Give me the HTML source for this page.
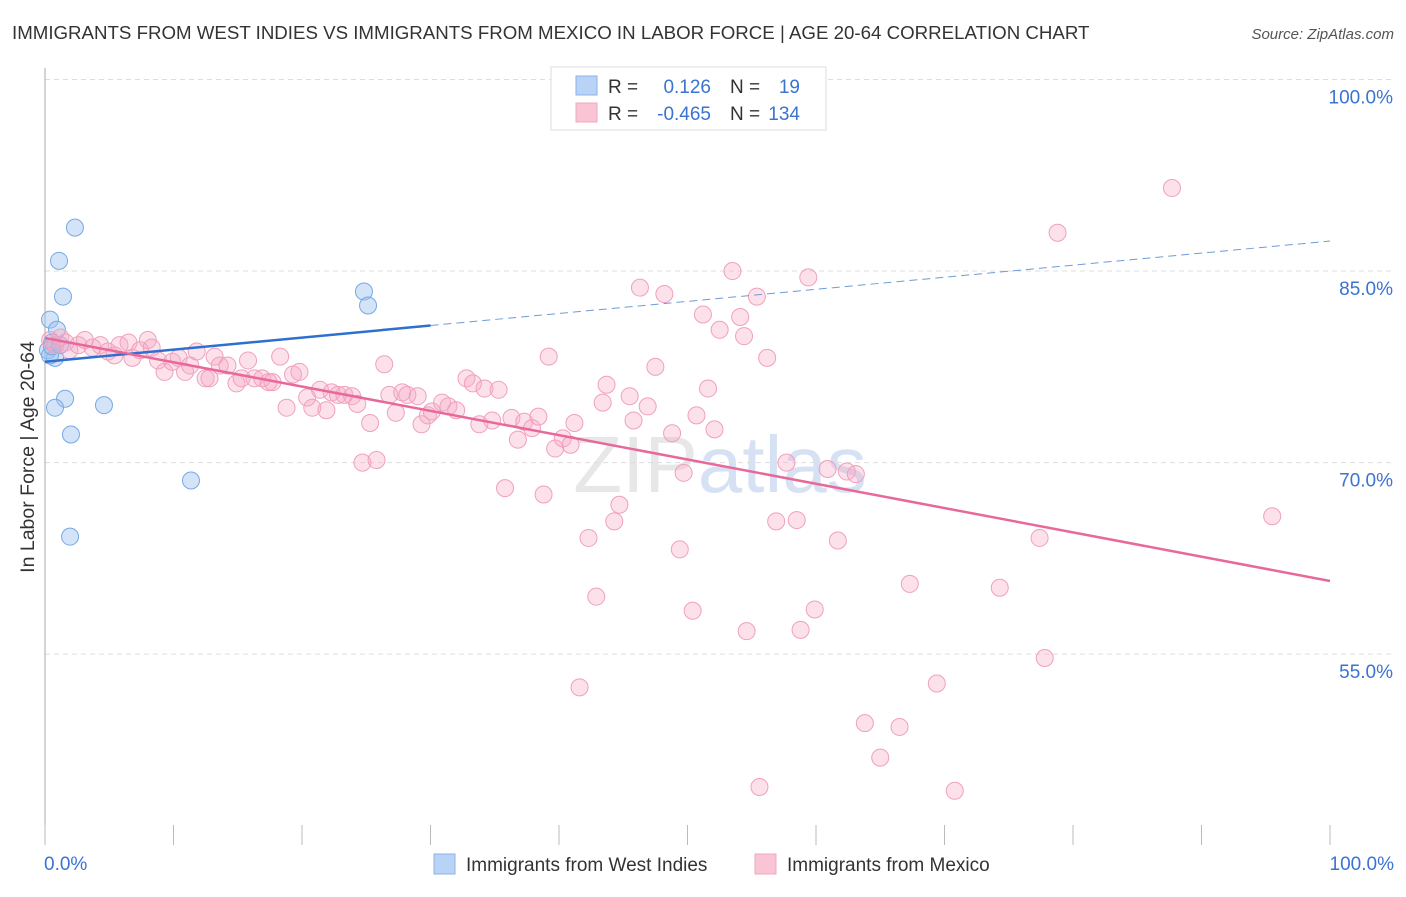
<!DOCTYPE html>
<html><head><meta charset="utf-8"><style>
body{margin:0;background:#fff;font-family:"Liberation Sans",sans-serif}
svg text{font-family:"Liberation Sans",sans-serif}
</style></head><body>
<svg id="chart" width="1406" height="892" xmlns="http://www.w3.org/2000/svg">
<text x="12" y="39" font-size="18.7" fill="#333">IMMIGRANTS FROM WEST INDIES VS IMMIGRANTS FROM MEXICO IN LABOR FORCE | AGE 20-64 CORRELATION CHART</text>
<text x="1394" y="39" font-size="15" fill="#555" text-anchor="end" font-style="italic">Source: ZipAtlas.com</text>
<text transform="translate(34,457) rotate(-90)" font-size="19.5" fill="#333" text-anchor="middle">In Labor Force | Age 20-64</text>
<text x="720" y="492" font-size="80" fill="#d8d8d8" text-anchor="middle" opacity="0.6" font-family="Liberation Serif">ZIP<tspan fill="#bcd0ee">atlas</tspan></text>
<g id="grid"></g><g id="blue"></g><g id="pink"></g><g id="lines"></g>
<g>
<rect x="551" y="67" width="275" height="63" fill="#fff" stroke="#ddd"/>
<rect x="576" y="76" width="21" height="19" fill="#b8d3f5" stroke="#8ab3e6"/>
<rect x="576" y="103" width="21" height="19" fill="#f9c5d5" stroke="#f0a8c0"/>
<text x="608" y="93" font-size="19" fill="#333">R =</text><text x="711" y="93" font-size="19" fill="#3b73d1" text-anchor="end">0.126</text>
<text x="730" y="93" font-size="19" fill="#333">N =</text><text x="800" y="93" font-size="19" fill="#3b73d1" text-anchor="end">19</text>
<text x="608" y="120" font-size="19" fill="#333">R =</text><text x="711" y="120" font-size="19" fill="#3b73d1" text-anchor="end">-0.465</text>
<text x="730" y="120" font-size="19" fill="#333">N =</text><text x="800" y="120" font-size="19" fill="#3b73d1" text-anchor="end">134</text>
</g>
<g>
<rect x="434" y="854" width="21" height="20" fill="#b8d3f5" stroke="#8ab3e6"/>
<text x="466" y="871" font-size="19" fill="#333">Immigrants from West Indies</text>
<rect x="755" y="854" width="21" height="20" fill="#f9c5d5" stroke="#f0a8c0"/>
<text x="787" y="871" font-size="19" fill="#333">Immigrants from Mexico</text>
</g>
</svg>
<script>
const yTicks=[100,85,70,55];
const yTickLabels=["100.0%","85.0%","70.0%","55.0%"];
const xTickLabels=["0.0%","100.0%"];
const blueX=[2.33,1.09,1.40,0.39,0.93,0.54,0.23,0.78,0.39,1.56,0.78,4.59,2.02,11.36,1.95,24.82,25.14,0.54,1.17];
const blueY=[88.4,85.8,83.0,81.2,80.4,79.4,78.8,78.2,78.4,75.0,74.3,74.5,72.2,68.6,64.2,83.4,82.3,79.1,79.2];
const pinkX=[0.4,0.8,1.2,1.6,1.9,2.6,3.1,3.7,4.3,4.9,5.4,5.8,6.5,6.8,7.4,8.0,8.3,8.8,9.3,9.9,10.4,10.9,11.3,11.8,12.5,12.8,13.2,13.6,14.2,14.9,15.3,15.8,16.3,16.9,17.4,17.7,18.3,18.8,19.3,19.8,20.4,20.8,21.4,21.9,22.3,22.8,23.3,23.9,24.3,24.7,25.3,25.8,26.4,26.8,27.3,27.8,28.2,29.0,29.3,29.8,30.1,30.9,31.4,32.0,32.8,33.3,33.8,34.2,34.8,35.3,35.8,36.3,36.8,37.3,37.9,38.4,38.8,39.2,39.7,40.3,40.9,41.2,41.6,42.3,42.9,43.4,43.7,44.3,44.7,45.5,45.8,46.3,46.9,47.5,48.2,48.8,49.4,49.7,50.4,50.7,51.2,51.6,52.1,52.5,53.5,54.1,54.4,54.6,55.4,55.6,56.2,56.9,57.7,58.5,58.8,59.4,59.9,60.9,61.7,62.4,63.1,63.8,65.0,66.5,67.3,69.4,70.8,74.3,77.4,77.8,78.8,87.7,95.5,47.6];
const pinkY=[79.6,79.2,79.8,79.4,78.8,79.2,79.6,79.0,79.2,78.7,78.4,79.2,79.4,78.2,78.8,79.6,79.0,78.0,77.1,77.9,78.2,77.1,77.6,78.7,76.6,76.6,78.3,77.6,77.6,76.2,76.6,78.0,76.6,76.6,76.3,76.3,78.3,74.3,76.9,77.1,75.1,74.3,75.7,74.1,75.5,75.3,75.3,75.2,74.6,70.0,73.1,70.2,77.7,75.3,73.9,75.5,75.3,75.2,73.0,73.7,74.0,74.7,74.4,74.1,76.6,76.2,73.0,75.8,73.3,75.7,68.0,73.5,71.8,73.2,72.7,73.6,67.5,78.3,71.1,71.9,71.4,73.1,52.4,64.1,59.5,74.7,76.1,65.4,66.7,75.2,73.3,83.7,74.4,77.5,83.2,72.3,63.2,69.2,58.4,73.7,81.6,75.8,72.6,80.4,85.0,81.4,79.9,56.8,83.0,44.6,78.2,65.4,70.0,65.5,56.9,84.5,58.5,69.5,63.9,69.3,69.1,49.6,46.9,49.3,60.5,52.7,44.3,60.2,64.1,54.7,88.0,91.5,65.8,100.1];
const blueTrend=[77.9,87.35];
const pinkTrend=[79.76,60.73];
const NS="http://www.w3.org/2000/svg";
const X=v=>45+v*12.85, Y=v=>79.5+(100-v)*12.77;
function mk(p,t,a){const e=document.createElementNS(NS,t);for(const k in a)e.setAttribute(k,a[k]);p.appendChild(e);return e;}
const grid=document.getElementById('grid');
yTicks.forEach((t,i)=>{
 const l=mk(grid,'line',{x1:45,x2:1394,y1:Y(t),y2:Y(t),stroke:'#ddd','stroke-dasharray':'5,4'});
 
 
 const tx=mk(grid,'text',{x:1393,y:Y(t)+24,'font-size':19,fill:'#3b73d1','text-anchor':'end'});
 tx.textContent=yTickLabels[i];
 
 
});
const ax=mk(grid,'line',{x1:45,x2:45,y1:68,y2:845,stroke:'#aaa'});


for(let i=0;i<=10;i++){
 const t=mk(grid,'line',{x1:X(i*10),x2:X(i*10),y1:825,y2:845,stroke:'#bbb'});
 
 
}
[[0,'start',44],[100,'end',1394]].forEach((d,i)=>{
 const tx=mk(grid,'text',{x:d[2],y:870,'font-size':19,fill:'#3b73d1','text-anchor':d[1]});
 tx.textContent=xTickLabels[i];
 
 
});
const bg=document.getElementById('blue');
blueX.forEach((v,i)=>{
 const c=mk(bg,'circle',{cx:X(v),cy:Y(blueY[i]),r:8.5,fill:'rgba(160,195,240,0.45)',stroke:'#78a8e4','stroke-width':1});
 
 
});
const pg=document.getElementById('pink');
pinkX.forEach((v,i)=>{
 const c=mk(pg,'circle',{cx:X(v),cy:Y(pinkY[i]),r:8.5,fill:'rgba(246,170,198,0.35)',stroke:'#f0a0bc','stroke-width':1});
 
 
});
const lg=document.getElementById('lines');
const b30=blueTrend[0]+(blueTrend[1]-blueTrend[0])*0.3;
const bl=mk(lg,'line',{x1:X(0),y1:Y(blueTrend[0]),x2:X(30),y2:Y(b30),stroke:'#2f6fd0','stroke-width':2.5});


const bd=mk(lg,'line',{x1:X(30),y1:Y(b30),x2:X(100),y2:Y(blueTrend[1]),stroke:'#6f9bd8','stroke-width':1,'stroke-dasharray':'8,5'});


const pl=mk(lg,'line',{x1:X(0),y1:Y(pinkTrend[0]),x2:X(100),y2:Y(pinkTrend[1]),stroke:'#e8689a','stroke-width':2.5});


</script>
</body></html>
